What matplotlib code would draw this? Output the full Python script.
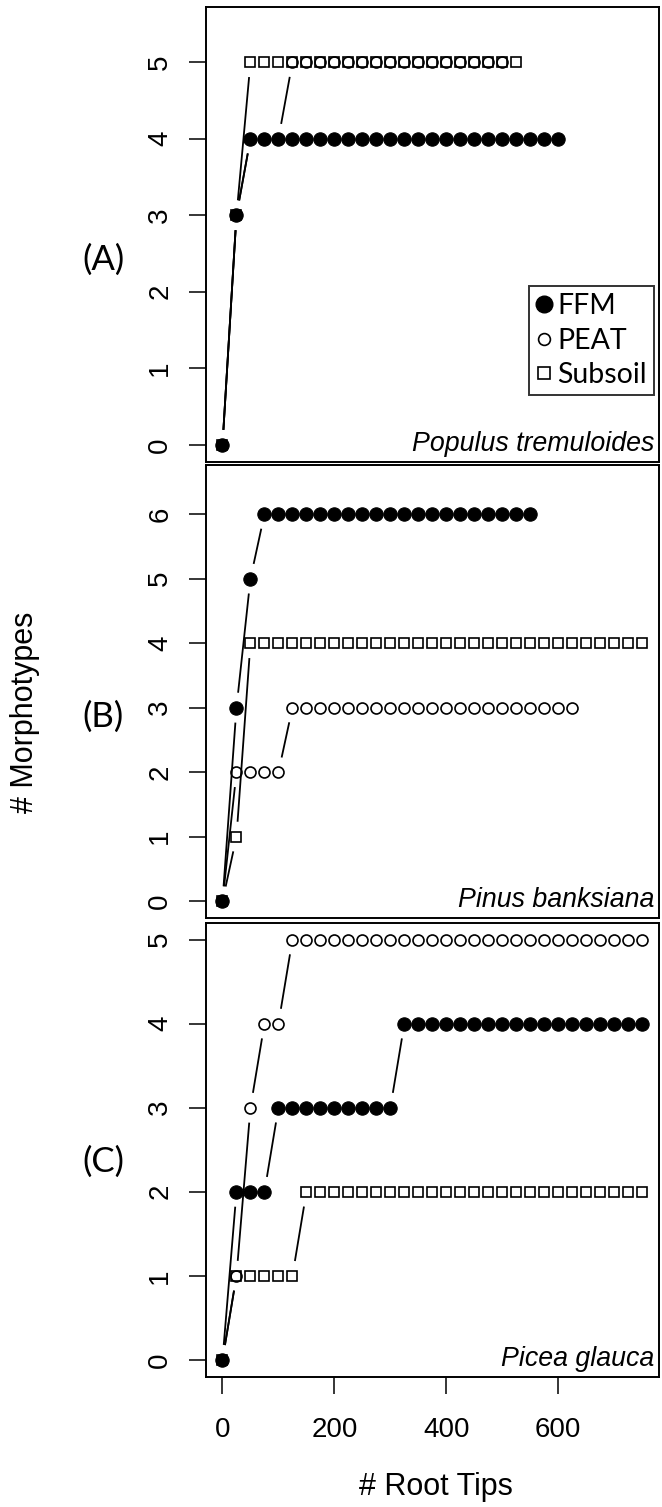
import matplotlib
# no display in the sandbox
matplotlib.use('Agg')
import matplotlib.pyplot as plt
from matplotlib.lines import Line2D
import numpy as np

plt.rcParams['font.family'] = ['Liberation Sans', 'DejaVu Sans']

# sampling effort: number of root tips examined (every 25 tips)
root_tips = [0, 25, 50, 75, 100, 125, 150, 175, 200, 225, 250, 275, 300, 325, 350,
             375, 400, 425, 450, 475, 500, 525, 550, 575, 600, 625, 650, 675, 700,
             725, 750]

# (A) Populus tremuloides
ffm_a = [0, 3, 4, 4, 4, 4, 4, 4, 4, 4, 4, 4, 4, 4, 4, 4, 4, 4, 4, 4, 4, 4, 4, 4, 4]
peat_a = [0, 3, 4, 4, 4, 5, 5, 5, 5, 5, 5, 5, 5, 5, 5, 5, 5, 5, 5, 5, 5]
sub_a = [0, 3, 5, 5, 5, 5, 5, 5, 5, 5, 5, 5, 5, 5, 5, 5, 5, 5, 5, 5, 5, 5]

# (B) Pinus banksiana
ffm_b = [0, 3, 5, 6, 6, 6, 6, 6, 6, 6, 6, 6, 6, 6, 6, 6, 6, 6, 6, 6, 6, 6, 6]
peat_b = [0, 2, 2, 2, 2, 3, 3, 3, 3, 3, 3, 3, 3, 3, 3, 3, 3, 3, 3, 3, 3, 3, 3, 3,
          3, 3]
sub_b = [0, 1, 4, 4, 4, 4, 4, 4, 4, 4, 4, 4, 4, 4, 4, 4, 4, 4, 4, 4, 4, 4, 4, 4,
         4, 4, 4, 4, 4, 4, 4]

# (C) Picea glauca
ffm_c = [0, 2, 2, 2, 3, 3, 3, 3, 3, 3, 3, 3, 3, 4, 4, 4, 4, 4, 4, 4, 4, 4, 4, 4,
         4, 4, 4, 4, 4, 4, 4]
peat_c = [0, 1, 3, 4, 4, 5, 5, 5, 5, 5, 5, 5, 5, 5, 5, 5, 5, 5, 5, 5, 5, 5, 5, 5,
          5, 5, 5, 5, 5, 5, 5]
sub_c = [0, 1, 1, 1, 1, 1, 2, 2, 2, 2, 2, 2, 2, 2, 2, 2, 2, 2, 2, 2, 2, 2, 2, 2,
         2, 2, 2, 2, 2, 2, 2]

panel_tags = ['(A)', '(B)', '(C)']
species = ['Populus tremuloides', 'Pinus banksiana', 'Picea glauca']
series_names = ['FFM', 'PEAT', 'Subsoil']
x_ticks = [0, 200, 400, 600]

W, H = 662, 1507
fig = plt.figure(figsize=(W / 100.0, H / 100.0), dpi=100)
fig.patch.set_facecolor('white')


def add_axes_px(left, top, right, bottom):
    return fig.add_axes([left / W, 1 - bottom / H, (right - left) / W, (bottom - top) / H])


def gapped_line(ax, x, y, gap=15):
    # R type="b": segments between points, leaving a gap round each point
    pts = ax.transData.transform(np.column_stack([x, y]).astype(float))
    inv = ax.transData.inverted()
    for p0, p1 in zip(pts[:-1], pts[1:]):
        d = p1 - p0
        L = np.hypot(d[0], d[1])
        if L <= 2 * gap:
            continue
        u = d / L
        seg = inv.transform(np.array([p0 + u * gap, p1 - u * gap]))
        ax.plot(seg[:, 0], seg[:, 1], color='black', lw=1.3, solid_capstyle='butt')


# pixel boxes of the three plot regions and their y limits
boxes = [(205.7, 7, 659, 461.7), (205.7, 465, 659, 918), (205.7, 922.7, 659, 1376.7)]
ylims = [(-0.22, 5.72), (-0.26, 6.76), (-0.2, 5.2)]
yticks = [range(0, 6), range(0, 7), range(0, 6)]
data = [(ffm_a, peat_a, sub_a), (ffm_b, peat_b, sub_b), (ffm_c, peat_c, sub_c)]
tag_y = [260, 717, 1162]

for i in range(3):
    ax = add_axes_px(*boxes[i])
    ax.set_xlim(-30, 780)
    ax.set_ylim(*ylims[i])
    for sp in ax.spines.values():
        sp.set_linewidth(1.4)

    ffm, peat, sub = data[i]
    for ys in (ffm, peat, sub):
        gapped_line(ax, root_tips[:len(ys)], ys)
    ax.plot(root_tips[:len(ffm)], ffm, ls='none', marker='o', ms=9.6,
            mfc='black', mec='black', mew=0.8)
    ax.plot(root_tips[:len(peat)], peat, ls='none', marker='o', ms=7.9,
            mfc='none', mec='black', mew=1.2)
    ax.plot(root_tips[:len(sub)], sub, ls='none', marker='s', ms=7.6,
            mfc='none', mec='black', mew=1.2)

    ax.set_yticks(list(yticks[i]))
    ax.set_yticklabels([str(v) for v in yticks[i]], rotation=90, va='center')
    ax.tick_params(axis='y', length=12.3, width=1.1, labelsize=20, pad=11)
    if i == 2:
        ax.set_xticks(x_ticks)
        ax.set_xticklabels([str(v) for v in x_ticks])
        ax.tick_params(axis='x', length=12, width=1.1, labelsize=20, pad=17)
    else:
        ax.set_xticks([])

    ax.text(1 - 5 / 453.3, 11 / 454.0, species[i], transform=ax.transAxes,
            ha='right', va='baseline', style='italic', fontsize=19.3)
    fig.text(103 / W, 1 - tag_y[i] / H, panel_tags[i], ha='center', va='center',
             fontsize=25, family=['Lato', 'DejaVu Sans'])

    if i == 0:
        handles = [
            Line2D([], [], ls='none', marker='o', ms=12, mfc='black', mec='black'),
            Line2D([], [], ls='none', marker='o', ms=8.5, mfc='none', mec='black', mew=1.2),
            Line2D([], [], ls='none', marker='s', ms=9, mfc='none', mec='black', mew=1.2),
        ]
        leg = ax.legend(handles, series_names, loc='upper right',
                        bbox_to_anchor=(0.989, 0.3864), frameon=True, fancybox=False,
                        edgecolor='black', borderpad=0.25, labelspacing=0.3,
                        handlelength=0.6, handletextpad=0.15, borderaxespad=0,
                        prop={'family': ['Lato', 'DejaVu Sans'], 'size': 20.5})
        leg.get_frame().set_linewidth(1.4)

fig.text(436 / W, 1 - 1487 / H, '# Root Tips', ha='center', va='center', fontsize=22)
fig.text(25 / W, 1 - 712 / H, '# Morphotypes', ha='center', va='center',
         rotation=90, fontsize=22)

fig.savefig('out.png', dpi=100)
